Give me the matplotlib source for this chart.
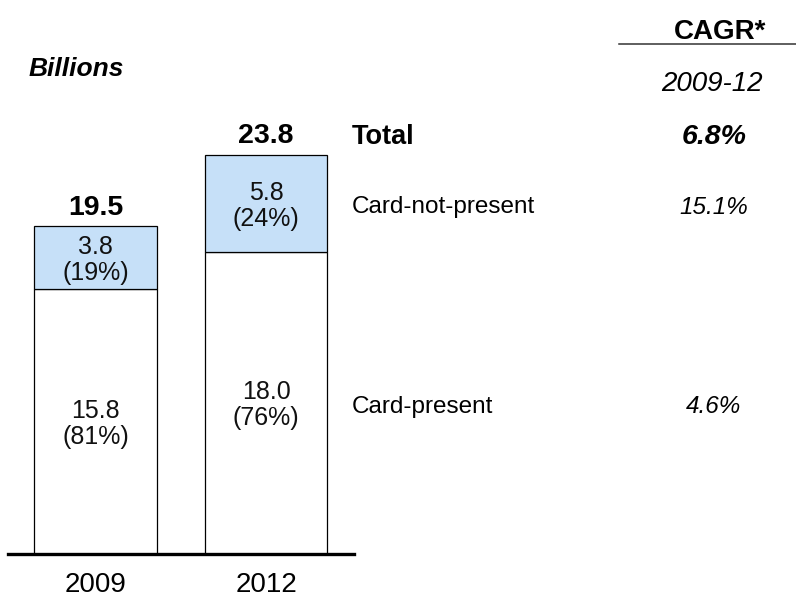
import matplotlib
matplotlib.use("Agg")
import matplotlib.pyplot as plt
import matplotlib.transforms as mtransforms

plt.rcParams['font.family'] = ['Liberation Sans', 'DejaVu Sans']

# ---- data ----
years = ["2009", "2012"]
card_present = [15.8, 18.0]
card_not_present = [3.8, 5.8]
totals = [19.5, 23.8]
pct_present = [81, 76]
pct_not_present = [19, 24]
segments = ["Total", "Card-not-present", "Card-present"]
cagr = ["6.8%", "15.1%", "4.6%"]

W, H = 796, 598
fig = plt.figure(figsize=(W / 100, H / 100), dpi=100)
ax = fig.add_axes([8 / W, 44 / H, 346 / W, 502.5 / H])
ax.set_xlim(-0.513, 1.516)
ax.set_ylim(0, 30)
ax.axis("off")

xs = list(range(len(years)))
bw = 0.72
lw_bar = 0.9
ax.bar(xs, card_present, width=bw, color="white", edgecolor="black", linewidth=lw_bar, zorder=2)
ax.bar(xs, card_not_present, width=bw, bottom=card_present, color="#C6E0F8",
       edgecolor="black", linewidth=lw_bar, zorder=2)
ax.axhline(0, color="black", linewidth=2.4, zorder=3, clip_on=False)

inner_fs = 18
for i, x in enumerate(xs):
    ax.annotate(f"{card_present[i]:.1f}\n({pct_present[i]}%)", xy=(x, card_present[i] / 2),
                xytext=(0, -1.5), textcoords="offset points",
                ha="center", va="center", fontsize=inner_fs, linespacing=1.1, color="#111111", zorder=4)
    ax.annotate(f"{card_not_present[i]:.1f}\n({pct_not_present[i]}%)",
                xy=(x, card_present[i] + card_not_present[i] / 2),
                xytext=(0, -1.5), textcoords="offset points",
                ha="center", va="center", fontsize=inner_fs, linespacing=1.1, color="#111111", zorder=4)
    ax.annotate(f"{totals[i]:.1f}", xy=(x, totals[i]), xytext=(0, 14), textcoords="offset points",
                ha="center", va="center", fontsize=20.5, fontweight="bold")
    ax.annotate(years[i], xy=(x, 0), xytext=(0, -27.3), textcoords="offset points",
                ha="center", va="baseline", fontsize=20)

# right-side labels, y in data coordinates
blend = mtransforms.blended_transform_factory(fig.transFigure, ax.transData)
seg_y = [totals[1], card_present[1] + card_not_present[1] / 2, card_present[1] / 2]
seg_off = [13, -2.5, -2.5]
seg_style = [dict(fontsize=19.5, fontweight="bold"), dict(fontsize=17.5), dict(fontsize=17.5)]
cagr_style = [dict(fontsize=20.5, fontweight="bold", style="italic"),
              dict(fontsize=17.5, style="italic"), dict(fontsize=17.5, style="italic")]
for j in range(len(segments)):
    ax.annotate(segments[j], xy=(352 / W, seg_y[j]), xycoords=blend,
                xytext=(0, seg_off[j]), textcoords="offset points",
                ha="left", va="center", **seg_style[j])
    ax.annotate(cagr[j], xy=(714 / W, seg_y[j]), xycoords=blend,
                xytext=(0, seg_off[j]), textcoords="offset points",
                ha="center", va="center", **cagr_style[j])

# headers
fig.text(720 / W, 1 - 32 / H, "CAGR*", ha="center", va="center", fontsize=20, fontweight="bold")
fig.add_artist(plt.Line2D([619 / W, 1.0], [1 - 44 / H, 1 - 44 / H], color="#333333", linewidth=1.1))
fig.text(712 / W, 1 - 84 / H, "2009-12", ha="center", va="center", fontsize=20, style="italic")
fig.text(29 / W, 1 - 69 / H, "Billions", ha="left", va="center", fontsize=19,
         fontweight="bold", style="italic")

fig.savefig("out.png", dpi=100)
